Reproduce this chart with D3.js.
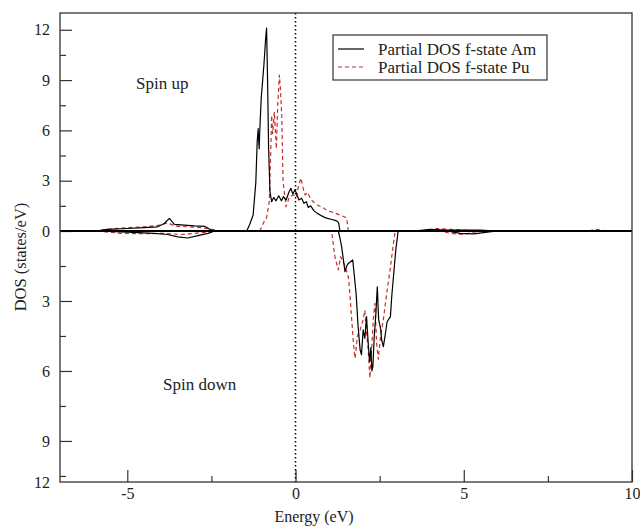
<!DOCTYPE html>
<html><head><meta charset="utf-8">
<script src="https://cdn.jsdelivr.net/npm/d3@7/dist/d3.min.js"></script>
<style>
html,body{margin:0;padding:0;background:#fff;}
svg{display:block;}
text{font-family:"Liberation Serif","Times New Roman",serif;fill:#222;}
</style>
</head><body>
<svg id="c" width="640" height="526"></svg>
<script>
// ---- data ----
const xTicks = [-5, 0, 5, 10];
const xMinorTicks = [-2.5, 2.5, 7.5];
const upTicks = [0, 3, 6, 9, 12];
const upMinorTicks = [1.5, 4.5, 7.5, 10.5];
const downTicks = [3, 6, 9];
const downMinorTicks = [1.5, 4.5, 7.5, 10.5];
const downEndLabel = "12";
const seriesNames = ["Partial DOS f-state Am", "Partial DOS f-state Pu"];

// Am, spin up
const amUpE = [-5.9,-5.6,-5.0,-4.5,-4.1,-3.9,-3.75,-3.6,-3.3,-3.0,-2.7,-2.5,-2.3,-1.45,-1.36,-1.26,-1.18,-1.14,-1.11,-1.10,-1.08,-1.06,-1.02,-0.94,-0.88,-0.86,-0.83,-0.80,-0.76,-0.71,-0.65,-0.58,-0.50,-0.42,-0.36,-0.28,-0.20,-0.14,-0.08,-0.02,0.04,0.10,0.18,0.25,0.32,0.38,0.45,0.55,0.65,0.78,0.90,1.05,1.20,1.28,1.32,3.5,4.0,4.5,5.5,6.0];
const amUpV = [0,0.1,0.15,0.2,0.25,0.45,0.75,0.4,0.35,0.3,0.28,0.05,0,0,0.4,0.95,2.9,5.3,6.1,5.6,4.9,6.1,7.9,9.9,11.7,12.1,8.9,4.9,2.35,1.75,2.0,1.8,2.1,1.8,2.05,1.85,2.3,2.55,2.2,2.45,2.2,1.85,1.95,1.65,1.75,1.4,1.5,1.2,1.05,0.9,0.78,0.7,0.62,0.5,0,0,0.1,0.05,0.05,0];
// Am, spin down
const amDnE = [-5.9,-5.0,-4.2,-3.8,-3.5,-3.2,-2.9,-2.6,-2.4,1.27,1.32,1.37,1.47,1.52,1.57,1.70,1.80,1.86,1.92,1.96,2.01,2.06,2.11,2.16,2.20,2.24,2.27,2.30,2.34,2.39,2.43,2.47,2.53,2.56,2.61,2.66,2.72,2.76,2.82,2.86,2.91,2.98,3.05,4.5,4.9,5.3,5.7,6.0];
const amDnV = [0,0.05,0.1,0.15,0.25,0.3,0.2,0.1,0,0,0.3,0.67,1.74,1.5,1.39,1.24,2.67,4.1,5.1,5.3,4.24,4.6,3.67,4.8,5.6,5.0,6.0,5.8,4.5,3.5,2.39,3.8,4.2,4.67,4.96,4.5,3.9,3.8,3.67,2.8,1.96,0.81,0,0,0.1,0.12,0.05,0];
// Pu, spin up
const puUpE = [-6.0,-5.6,-5.0,-4.5,-4.0,-3.8,-3.6,-3.2,-2.8,-2.5,-2.3,-1.06,-0.95,-0.86,-0.78,-0.74,-0.71,-0.68,-0.63,-0.57,-0.53,-0.48,-0.45,-0.41,-0.37,-0.28,-0.18,-0.06,0.02,0.08,0.16,0.22,0.28,0.36,0.45,0.55,0.65,0.75,0.85,0.95,1.05,1.20,1.32,1.45,1.52,1.57,3.9,4.2,4.6,5.0,5.4,8.7,8.9,9.1,9.3];
const puUpV = [0,0.1,0.2,0.25,0.35,0.5,0.3,0.25,0.2,0.1,0,0,0.5,0.8,1.75,4.5,6.9,5.8,7.1,4.9,7.5,9.3,8.5,6.9,2.95,1.45,2.05,2.15,2.0,2.6,3.15,2.6,2.15,2.3,1.9,1.7,1.55,1.45,1.35,1.2,1.15,1.05,0.95,0.85,0.77,0,0,0.15,0.1,0.05,0,0,0.1,0.05,0];
// Pu, spin down
const puDnE = [-5.9,-5.2,-4.5,-3.9,-3.4,-3.0,-2.6,-2.4,1.07,1.17,1.27,1.34,1.46,1.57,1.62,1.67,1.72,1.77,1.84,1.92,2.01,2.06,2.11,2.16,2.21,2.26,2.31,2.36,2.41,2.46,2.52,2.61,2.71,2.81,2.91,2.96,4.3,4.6,5.0,5.3,5.5];
const puDnV = [0,0.1,0.12,0.1,0.15,0.1,0.05,0,0,1.1,1.67,1.1,1.46,1.96,2.8,3.8,4.8,5.46,4.5,4.24,3.8,3.4,4.4,5.1,6.3,5.1,3.8,3.1,4.8,5.5,4.6,3.8,2.67,1.67,0.53,0,0,0.1,0.15,0.05,0];

// ---- layout ----
const L = 60, R = 632, T = 13, B = 482, Z = 231;
const svg = d3.select("#c");
const x = d3.scaleLinear().domain([-7, 10]).range([L, R]);
const yUp = d3.scaleLinear().domain([0, 13]).range([Z, T]);
const yDn = d3.scaleLinear().domain([0, 10.76]).range([Z, B]);
const fmt = d => String(d);

const g = svg.append("g");
svg.append("defs").append("clipPath").attr("id","clip")
  .append("rect").attr("x",L).attr("y",T).attr("width",R-L).attr("height",B-T);

// axes ticks (inward)
function yAxisUp(){
  const a = d3.axisRight(yUp).tickValues(upMinorTicks).tickSize(6).tickFormat("");
  g.append("g").attr("transform",`translate(${L},0)`).call(a);
  const b = d3.axisRight(yUp).tickValues(upTicks).tickSize(12).tickFormat(fmt);
  const gb = g.append("g").attr("transform",`translate(${L},0)`).call(b);
  gb.selectAll("text").attr("x",-10).attr("text-anchor","end");
}
function yAxisDn(){
  const a = d3.axisRight(yDn).tickValues(downMinorTicks).tickSize(6).tickFormat("");
  g.append("g").attr("transform",`translate(${L},0)`).call(a);
  const b = d3.axisRight(yDn).tickValues(downTicks).tickSize(12).tickFormat(fmt);
  const gb = g.append("g").attr("transform",`translate(${L},0)`).call(b);
  gb.selectAll("text").attr("x",-10).attr("text-anchor","end");
  const c = d3.axisRight(yDn).tickValues([yDn.domain()[1]]).tickSize(0).tickFormat(() => downEndLabel);
  const gc = g.append("g").attr("transform",`translate(${L},0)`).call(c);
  gc.selectAll("text").attr("x",-10).attr("text-anchor","end");
}
function xAxis(){
  const a = d3.axisTop(x).tickValues(xMinorTicks).tickSize(6).tickFormat("");
  g.append("g").attr("transform",`translate(0,${B})`).call(a);
  const b = d3.axisTop(x).tickValues(xTicks).tickSize(12).tickFormat(fmt);
  const gb = g.append("g").attr("transform",`translate(0,${B})`).call(b);
  gb.selectAll("text").attr("y",6).attr("dy","0.71em");
}
yAxisUp(); yAxisDn(); xAxis();
g.selectAll(".domain").remove();
g.selectAll(".tick line").attr("stroke","#333").attr("stroke-width",1.2);
g.selectAll(".tick text").attr("font-size",16).attr("fill","#222")
  .attr("font-family","'Liberation Serif','Times New Roman',serif");

// curves
const plot = svg.append("g").attr("clip-path","url(#clip)");
function draw(E, V, ys, color, dash){
  const pts = E.map((e,i)=>[e, V[i]]);
  const line = d3.line().x(d=>x(d[0])).y(d=>ys(d[1]));
  plot.append("path").datum(pts).attr("d",line).attr("fill","none")
    .attr("stroke",color).attr("stroke-width",1.2)
    .attr("stroke-dasharray",dash||null).attr("stroke-linejoin","round");
}
const red = "#c4302b";
draw(puUpE, puUpV, yUp, red, "4,3");
draw(puDnE, puDnV, yDn, red, "4,3");
draw(amUpE, amUpV, yUp, "#000");
draw(amDnE, amDnV, yDn, "#000");

// zero line & dotted fermi line
svg.append("line").attr("x1",L).attr("x2",R).attr("y1",Z).attr("y2",Z)
  .attr("stroke","#000").attr("stroke-width",2.2);
svg.append("line").attr("x1",x(0)).attr("x2",x(0)).attr("y1",T).attr("y2",B)
  .attr("stroke","#000").attr("stroke-width",1.5).attr("stroke-dasharray","1.5,2.5");

// frame
svg.append("rect").attr("x",L).attr("y",T).attr("width",R-L).attr("height",B-T)
  .attr("fill","none").attr("stroke","#333").attr("stroke-width",1.3);

// labels
svg.append("text").attr("x",314).attr("y",522).attr("text-anchor","middle")
  .attr("font-size",16).text("Energy (eV)");
svg.append("text").attr("transform","translate(26,257) rotate(-90)")
  .attr("text-anchor","middle").attr("font-size",16.5).text("DOS (states/eV)");
svg.append("text").attr("x",136).attr("y",89).attr("font-size",17).text("Spin up");
svg.append("text").attr("x",163).attr("y",390).attr("font-size",17).text("Spin down");

// legend
const lg = svg.append("g");
lg.append("rect").attr("x",333).attr("y",35).attr("width",214).attr("height",45)
  .attr("fill","#fff").attr("stroke","#333").attr("stroke-width",1.2);
const lgColors = ["#000", red], lgDash = [null, "4,3"];
seriesNames.forEach((name,i)=>{
  const yy = 49 + i*18;
  lg.append("line").attr("x1",338).attr("x2",364).attr("y1",yy).attr("y2",yy)
    .attr("stroke",lgColors[i]).attr("stroke-width",1.2).attr("stroke-dasharray",lgDash[i]);
  lg.append("text").attr("x",378).attr("y",yy+5.5).attr("font-size",17).text(name);
});
</script>
</body></html>
